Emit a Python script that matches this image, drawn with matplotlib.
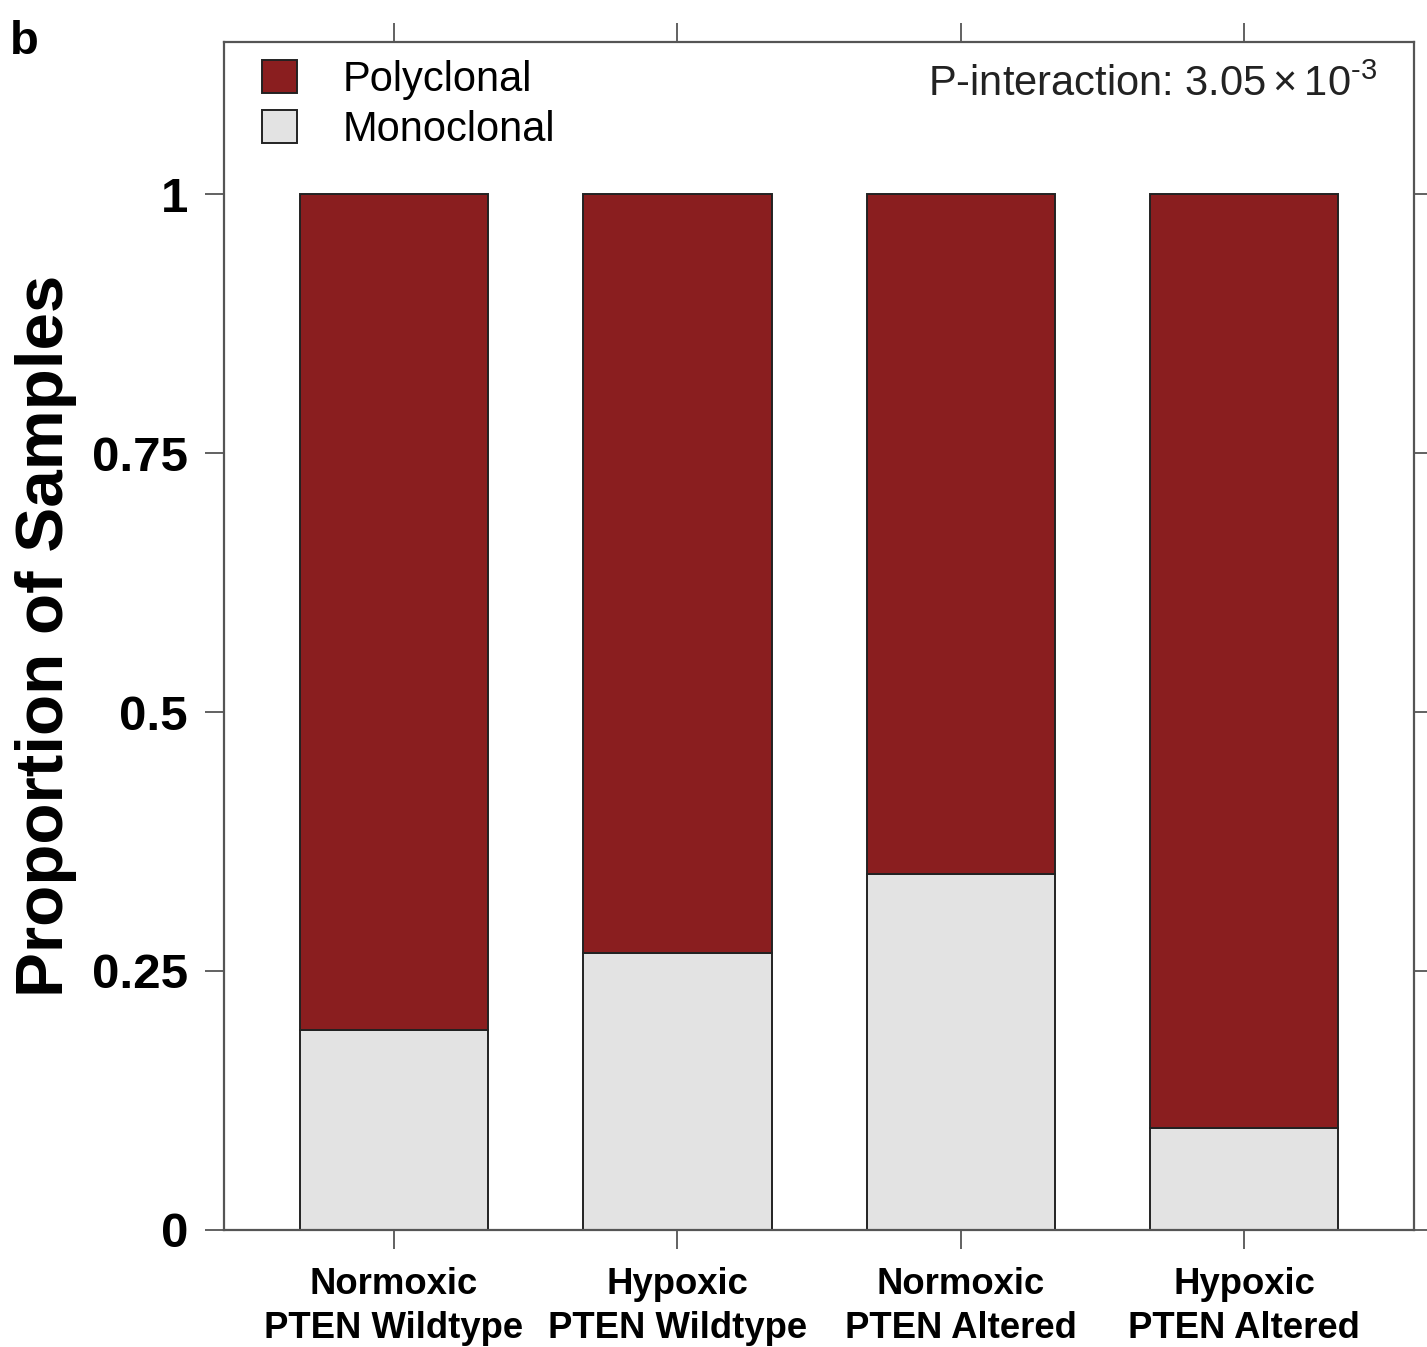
import matplotlib
matplotlib.use("Agg")
import matplotlib.pyplot as plt
from matplotlib.patches import Patch
import numpy as np

plt.rcParams['font.family'] = ['Liberation Sans', 'DejaVu Sans']
plt.rcParams['mathtext.fontset'] = 'custom'
plt.rcParams['mathtext.rm'] = 'Liberation Sans'
plt.rcParams['mathtext.it'] = 'Liberation Sans'

# groups and clonality proportions
groups = ["Normoxic\nPTEN Wildtype", "Hypoxic\nPTEN Wildtype",
          "Normoxic\nPTEN Altered", "Hypoxic\nPTEN Altered"]
monoclonal = [0.193, 0.267, 0.344, 0.098]
polyclonal = [1 - m for m in monoclonal]
yticks = [0, 0.25, 0.5, 0.75, 1]
ytick_labels = ["0", "0.25", "0.5", "0.75", "1"]

poly_col = '#8a1e1f'
mono_col = '#e3e3e3'
spine_col = '#555555'

fig = plt.figure(figsize=(14.27, 13.47), dpi=100)
ax = fig.add_axes([0.157, 0.0869, 0.834, 0.882])

x = np.arange(len(groups))
w = 0.665
ax.bar(x, monoclonal, width=w, color=mono_col, edgecolor='#222222', linewidth=1.4)
ax.bar(x, polyclonal, width=w, bottom=monoclonal, color=poly_col,
       edgecolor='#222222', linewidth=1.4)

ax.set_xlim(-0.6, 3.6)
ax.set_ylim(0, 1.147)
ax.set_xticks(x)
ax.set_xticklabels(groups, fontsize=26.3, fontweight='bold', linespacing=1.32)
ax.set_yticks(yticks)
ax.set_yticklabels(ytick_labels, fontsize=35.5, fontweight='bold')

ax.tick_params(axis='both', direction='out', length=14, width=1.3, color=spine_col,
               top=True, right=True, labeltop=False, labelright=False)
ax.tick_params(axis='x', pad=13)
ax.tick_params(axis='y', pad=12)
for s in ax.spines.values():
    s.set_color(spine_col)
    s.set_linewidth(1.6)

ax.set_ylabel("Proportion of Samples", fontsize=48.5, fontweight='bold', labelpad=11)

handles = [Patch(facecolor=poly_col, edgecolor='#222222', linewidth=1.4),
           Patch(facecolor=mono_col, edgecolor='#222222', linewidth=1.4)]
ax.legend(handles, ["Polyclonal", "Monoclonal"], loc='upper left',
          bbox_to_anchor=(0.032, 0.985), frameon=False, fontsize=30,
          handlelength=0.84, handleheight=0.84, handletextpad=1.1,
          labelspacing=0.25, borderpad=0, borderaxespad=0)

ax.text(0.969, 0.981, r"P-interaction: $3.05\times10^{\text{-}3}$", transform=ax.transAxes,
        ha='right', va='top', fontsize=30, color='#222222')

fig.text(0.007, 0.985, "b", fontsize=34, fontweight='bold', ha='left', va='top')

fig.savefig("out.png", dpi=100)
